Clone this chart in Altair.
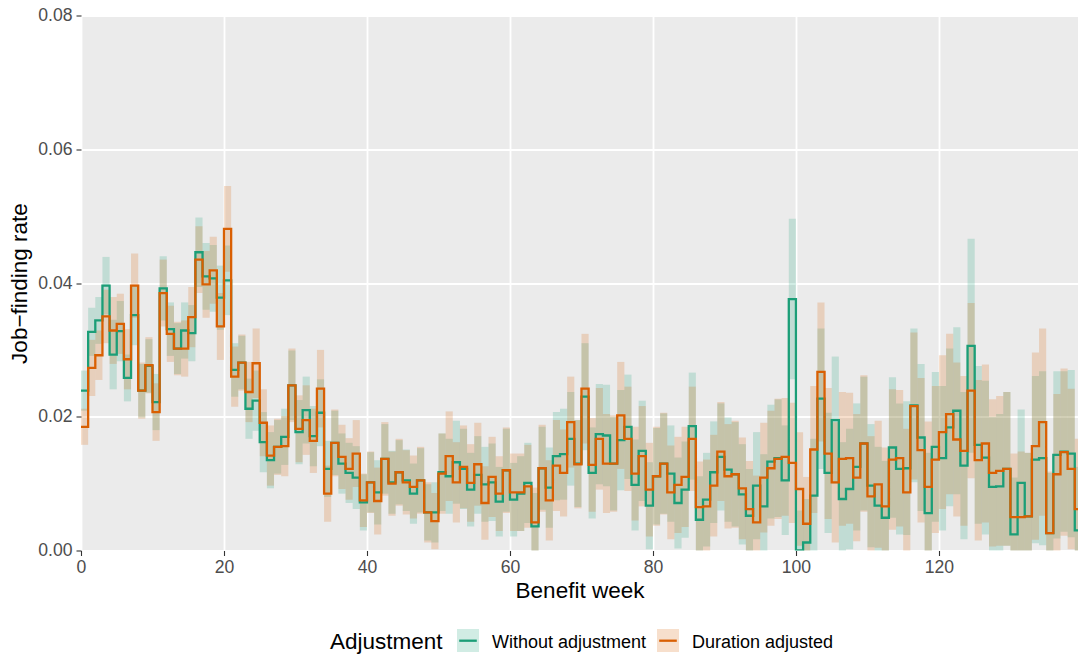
import altair as alt
import pandas as pd

# Weekly job-finding rates by benefit week (weeks 0..139)
weeks = list(range(140))

series_names = ["Without adjustment", "Duration adjusted"]
series_colors = ["#1B9E77", "#D95F02"]

rate_unadjusted = [
    0.0239, 0.0327, 0.0344, 0.0396, 0.0293, 0.0328, 0.0258, 0.0352, 0.0239, 0.0276,
    0.0222, 0.0392, 0.0331, 0.0302, 0.0329, 0.0325, 0.0446, 0.0410, 0.0407, 0.0378,
    0.0404, 0.0270, 0.0281, 0.0212, 0.0224, 0.0162, 0.0135, 0.0155, 0.0170, 0.0247,
    0.0177, 0.0210, 0.0171, 0.0206, 0.0122, 0.0161, 0.0130, 0.0116, 0.0109, 0.0072,
    0.0102, 0.0087, 0.0137, 0.0102, 0.0117, 0.0105, 0.0085, 0.0105, 0.0057, 0.0057,
    0.0117, 0.0111, 0.0132, 0.0122, 0.0091, 0.0113, 0.0099, 0.0102, 0.0073, 0.0120,
    0.0076, 0.0085, 0.0101, 0.0036, 0.0123, 0.0094, 0.0141, 0.0144, 0.0167, 0.0130,
    0.0230, 0.0116, 0.0174, 0.0172, 0.0130, 0.0165, 0.0185, 0.0098, 0.0149, 0.0067,
    0.0111, 0.0130, 0.0115, 0.0071, 0.0091, 0.0186, 0.0046, 0.0076, 0.0117, 0.0140,
    0.0121, 0.0114, 0.0084, 0.0052, 0.0097, 0.0066, 0.0133, 0.0138, 0.0105, 0.0376,
    0.0000, 0.0012, 0.0082, 0.0227, 0.0116, 0.0195, 0.0077, 0.0092, 0.0125, 0.0160,
    0.0097, 0.0067, 0.0049, 0.0154, 0.0122, 0.0123, 0.0217, 0.0169, 0.0056, 0.0155,
    0.0138, 0.0184, 0.0209, 0.0127, 0.0306, 0.0158, 0.0139, 0.0095, 0.0096, 0.0122,
    0.0024, 0.0101, 0.0051, 0.0136, 0.0138, 0.0026, 0.0143, 0.0148, 0.0145, 0.0030,
]

rate_adjusted = [
    0.0185, 0.0273, 0.0292, 0.0350, 0.0329, 0.0339, 0.0286, 0.0396, 0.0239, 0.0277,
    0.0207, 0.0385, 0.0324, 0.0302, 0.0302, 0.0349, 0.0435, 0.0398, 0.0419, 0.0335,
    0.0481, 0.0260, 0.0281, 0.0237, 0.0280, 0.0191, 0.0142, 0.0155, 0.0156, 0.0247,
    0.0182, 0.0195, 0.0164, 0.0242, 0.0085, 0.0161, 0.0140, 0.0122, 0.0145, 0.0075,
    0.0102, 0.0074, 0.0137, 0.0100, 0.0117, 0.0102, 0.0095, 0.0105, 0.0057, 0.0044,
    0.0115, 0.0141, 0.0102, 0.0125, 0.0101, 0.0129, 0.0071, 0.0110, 0.0085, 0.0120,
    0.0087, 0.0087, 0.0096, 0.0042, 0.0123, 0.0075, 0.0127, 0.0116, 0.0192, 0.0129,
    0.0242, 0.0128, 0.0167, 0.0130, 0.0130, 0.0202, 0.0167, 0.0115, 0.0141, 0.0091,
    0.0111, 0.0130, 0.0087, 0.0098, 0.0110, 0.0167, 0.0065, 0.0066, 0.0097, 0.0148,
    0.0111, 0.0114, 0.0093, 0.0062, 0.0042, 0.0109, 0.0123, 0.0137, 0.0140, 0.0131,
    0.0092, 0.0040, 0.0151, 0.0267, 0.0145, 0.0102, 0.0137, 0.0138, 0.0109, 0.0160,
    0.0081, 0.0099, 0.0066, 0.0136, 0.0138, 0.0087, 0.0216, 0.0150, 0.0095, 0.0136,
    0.0177, 0.0204, 0.0166, 0.0149, 0.0239, 0.0135, 0.0160, 0.0116, 0.0119, 0.0122,
    0.0050, 0.0050, 0.0051, 0.0156, 0.0192, 0.0026, 0.0114, 0.0147, 0.0122, 0.0062,
]

# Half-widths of the confidence intervals
ci_unadjusted = [
    0.0030, 0.0036, 0.0035, 0.0043, 0.0052, 0.0045, 0.0035, 0.0045, 0.0040, 0.0040,
    0.0042, 0.0048, 0.0040, 0.0038, 0.0042, 0.0042, 0.0052, 0.0050, 0.0050, 0.0048,
    0.0052, 0.0040, 0.0040, 0.0045, 0.0045, 0.0045, 0.0042, 0.0040, 0.0042, 0.0052,
    0.0048, 0.0050, 0.0045, 0.0050, 0.0042, 0.0048, 0.0045, 0.0045, 0.0047, 0.0042,
    0.0045, 0.0048, 0.0052, 0.0047, 0.0048, 0.0046, 0.0045, 0.0048, 0.0042, 0.0045,
    0.0058, 0.0056, 0.0062, 0.0060, 0.0055, 0.0058, 0.0056, 0.0058, 0.0052, 0.0062,
    0.0055, 0.0056, 0.0060, 0.0050, 0.0062, 0.0060, 0.0066, 0.0068, 0.0070, 0.0065,
    0.0080, 0.0068, 0.0075, 0.0076, 0.0070, 0.0075, 0.0078, 0.0068, 0.0075, 0.0065,
    0.0072, 0.0075, 0.0072, 0.0068, 0.0072, 0.0080, 0.0065, 0.0070, 0.0076, 0.0080,
    0.0078, 0.0078, 0.0075, 0.0070, 0.0080, 0.0078, 0.0085, 0.0088, 0.0082, 0.0120,
    0.0060, 0.0065, 0.0085, 0.0105, 0.0090, 0.0095, 0.0085, 0.0090, 0.0095, 0.0100,
    0.0092, 0.0088, 0.0085, 0.0105, 0.0098, 0.0100, 0.0115, 0.0110, 0.0090, 0.0112,
    0.0108, 0.0118, 0.0125, 0.0110, 0.0160, 0.0118, 0.0115, 0.0105, 0.0108, 0.0115,
    0.0085, 0.0110, 0.0095, 0.0125, 0.0130, 0.0090, 0.0125, 0.0120, 0.0125, 0.0095,
]

ci_adjusted = [
    0.0027, 0.0042, 0.0037, 0.0040, 0.0050, 0.0045, 0.0045, 0.0048, 0.0042, 0.0042,
    0.0043, 0.0050, 0.0042, 0.0040, 0.0042, 0.0045, 0.0050, 0.0050, 0.0050, 0.0050,
    0.0064, 0.0045, 0.0042, 0.0045, 0.0052, 0.0050, 0.0045, 0.0042, 0.0045, 0.0055,
    0.0050, 0.0052, 0.0048, 0.0058, 0.0042, 0.0050, 0.0048, 0.0046, 0.0050, 0.0040,
    0.0046, 0.0050, 0.0055, 0.0048, 0.0050, 0.0048, 0.0047, 0.0050, 0.0045, 0.0042,
    0.0060, 0.0067, 0.0060, 0.0062, 0.0058, 0.0062, 0.0055, 0.0060, 0.0056, 0.0064,
    0.0058, 0.0058, 0.0062, 0.0052, 0.0065, 0.0060, 0.0068, 0.0065, 0.0068, 0.0066,
    0.0082, 0.0070, 0.0076, 0.0074, 0.0072, 0.0080, 0.0078, 0.0070, 0.0075, 0.0070,
    0.0074, 0.0076, 0.0070, 0.0072, 0.0075, 0.0078, 0.0068, 0.0070, 0.0076, 0.0074,
    0.0078, 0.0080, 0.0076, 0.0072, 0.0070, 0.0082, 0.0086, 0.0090, 0.0088, 0.0090,
    0.0085, 0.0070, 0.0095, 0.0104, 0.0098, 0.0090, 0.0100, 0.0098, 0.0095, 0.0102,
    0.0090, 0.0095, 0.0088, 0.0105, 0.0102, 0.0095, 0.0110, 0.0108, 0.0098, 0.0110,
    0.0115, 0.0120, 0.0115, 0.0112, 0.0131, 0.0120, 0.0118, 0.0110, 0.0112, 0.0115,
    0.0095, 0.0098, 0.0095, 0.0140, 0.0140, 0.0092, 0.0120, 0.0125, 0.0120, 0.0105,
]

x_ticks = [0, 20, 40, 60, 80, 100, 120]
y_ticks = [0.0, 0.02, 0.04, 0.06, 0.08]

FONT = "Liberation Sans"
W, H = 997, 535

x_scale = alt.Scale(domain=[0, 139.45], nice=False, zero=False)
y_scale = alt.Scale(domain=[0, 0.08], nice=False)


def series_frame(name, values, halfwidths):
    df = pd.DataFrame({"week": weeks, "rate": values, "hw": halfwidths})
    df["week_end"] = df["week"] + 1
    df["lo"] = df["rate"] - df["hw"]
    df["hi"] = df["rate"] + df["hw"]
    df["series"] = name
    return df


def step_frame(df):
    # repeat the last value at the end of its week so the final step is drawn
    tail = df.iloc[[-1]].copy()
    tail["week"] = tail["week_end"]
    return pd.concat([df, tail], ignore_index=True)


frames = [
    series_frame(series_names[0], rate_unadjusted, ci_unadjusted),
    series_frame(series_names[1], rate_adjusted, ci_adjusted),
]

x_axis = alt.Axis(
    values=x_ticks, title="Benefit week", grid=True, gridColor="white", gridWidth=1.8,
    domain=False, tickColor="#333333", tickSize=5, tickWidth=1.1,
    labelColor="#4D4D4D", labelFontSize=17.6, labelFont=FONT, labelPadding=3,
    labelFlush=False, titleFont=FONT, titleFontSize=22.5, titleFontWeight="normal",
    titleColor="black", titlePadding=3,
)
y_axis = alt.Axis(
    values=y_ticks, format=".2f", title="Job−finding rate", grid=True, gridColor="white",
    gridWidth=1.8, domain=False, tickColor="#333333", tickSize=5, tickWidth=1.1,
    labelColor="#4D4D4D", labelFontSize=17.6, labelFont=FONT, labelPadding=4,
    labelFlush=False, titleFont=FONT, titleFontSize=22.5, titleFontWeight="normal",
    titleColor="black", titlePadding=6,
)

layers = []

# Axes/grid carrier
grid_layer = alt.Chart(frames[0]).mark_point(opacity=0).encode(
    x=alt.X("week:Q", scale=x_scale, axis=x_axis),
    y=alt.Y("rate:Q", scale=y_scale, axis=y_axis),
)
layers.append(grid_layer)

# Confidence bands, one rectangle per week
for df, color in zip(frames, series_colors):
    layers.append(
        alt.Chart(df).mark_rect(color=color, opacity=0.2, clip=True).encode(
            x=alt.X("week:Q", scale=x_scale),
            x2="week_end:Q",
            y=alt.Y("lo:Q", scale=y_scale),
            y2="hi:Q",
        )
    )

# Step lines of the weekly rates
for df, color in zip(frames, series_colors):
    layers.append(
        alt.Chart(step_frame(df)).mark_line(
            color=color, strokeWidth=2.3, interpolate="step-after", clip=True
        ).encode(
            x=alt.X("week:Q", scale=x_scale),
            y=alt.Y("rate:Q", scale=y_scale),
        )
    )

# Legend along the bottom (pixel offsets from the plot's top-left corner)
legend_title = pd.DataFrame({"label": ["Adjustment"]})
layers.append(
    alt.Chart(legend_title).mark_text(
        font=FONT, fontSize=22.5, align="left", baseline="alphabetic", color="black"
    ).encode(x=alt.value(249), y=alt.value(633.5), text="label:N")
)

key_left = [376, 576]
for name, color, kx in zip(series_names, series_colors, key_left):
    key_df = pd.DataFrame({"label": [name]})
    layers.append(
        alt.Chart(key_df).mark_rect(color=color, opacity=0.2).encode(
            x=alt.value(kx), x2=alt.value(kx + 22),
            y=alt.value(613.5), y2=alt.value(636.5),
        )
    )
    layers.append(
        alt.Chart(key_df).mark_rule(color=color, strokeWidth=2.3).encode(
            x=alt.value(kx + 2.2), x2=alt.value(kx + 19.8), y=alt.value(625.2),
        )
    )
    layers.append(
        alt.Chart(key_df).mark_text(
            font=FONT, fontSize=18, align="left", baseline="alphabetic", color="black"
        ).encode(x=alt.value(kx + 35), y=alt.value(632.5), text="label:N")
    )

chart = alt.layer(*layers).properties(
    width=W,
    height=H,
    autosize=alt.AutoSizeParams(type="none"),
    padding={"left": 81, "top": 15.5, "right": 0, "bottom": 106.5},
    background="white",
).configure_view(fill="#EBEBEB", stroke=None)

chart.save("out.html", embed_options={"renderer": "svg", "actions": False})
